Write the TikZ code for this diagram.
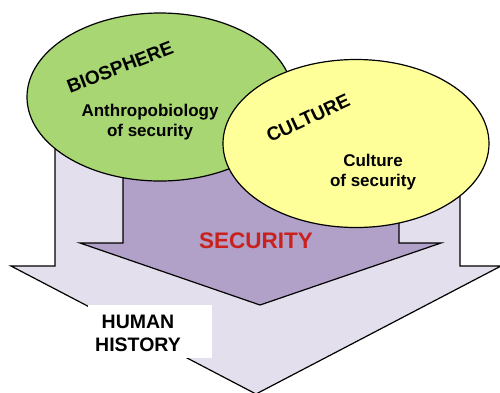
\documentclass[tikz,border=0pt]{standalone}
\usepackage{xcolor}
\usepackage{tikz}
\usepackage{fontspec}
\setmainfont{Liberation Sans}
\usetikzlibrary{shapes.geometric, positioning}
\definecolor{histLilac}{HTML}{E4DFEC}
\definecolor{secPurple}{HTML}{B1A0C7}
\definecolor{bioGreen}{HTML}{A8D672}
\definecolor{cultYellow}{HTML}{FFFF99}
\definecolor{secRed}{HTML}{C9211E}

\begin{document}
\begin{tikzpicture}[
    x=1pt, y=-1pt,
    outline/.style={draw=black, line width=1.2pt, line join=miter},
    blob/.style={ellipse, outline, minimum width=266pt, minimum height=168pt},
    title/.style={font=\bfseries\fontsize{19}{22}\selectfont},
    inner/.style={align=center, font=\bfseries\fontsize{17}{20}\selectfont},
]
    \useasboundingbox (0,0) rectangle (500,392);

    % Arrows
    \draw[outline, fill=histLilac] (55,100) -- (55,266) -- (11,266) -- (256,394)
        -- (501,266) -- (460,266) -- (460,100) -- cycle;
    \draw[outline, fill=secPurple] (123,100) -- (123,243) -- (80,243) -- (260,305)
        -- (441,243) -- (399,243) -- (399,100) -- cycle;

    % Nodes
    \node[blob, fill=bioGreen] (bio) at (160,97) {};
    \node[blob, fill=cultYellow] (cult) at (356,143.5) {};

    \node[title, rotate=21] (biotitle) at (120,67) {BIOSPHERE};
    \node[inner] (biotext) at (150,122) {Anthropobiology\\of security};
    \node[title, rotate=25] (culttitle) at (308,118) {CULTURE};
    \node[inner] (culttext) at (373,172) {Culture\\of security};

    \node[font=\bfseries\fontsize{22.5}{26}\selectfont, text=secRed] (sec) at (256,241) {SECURITY};

    \fill[white] (88,305) rectangle (212,358);
    \node[align=center, font=\bfseries\fontsize{19.5}{23}\selectfont] (hist) at (138,333) {HUMAN\\HISTORY};
\end{tikzpicture}
\end{document}
